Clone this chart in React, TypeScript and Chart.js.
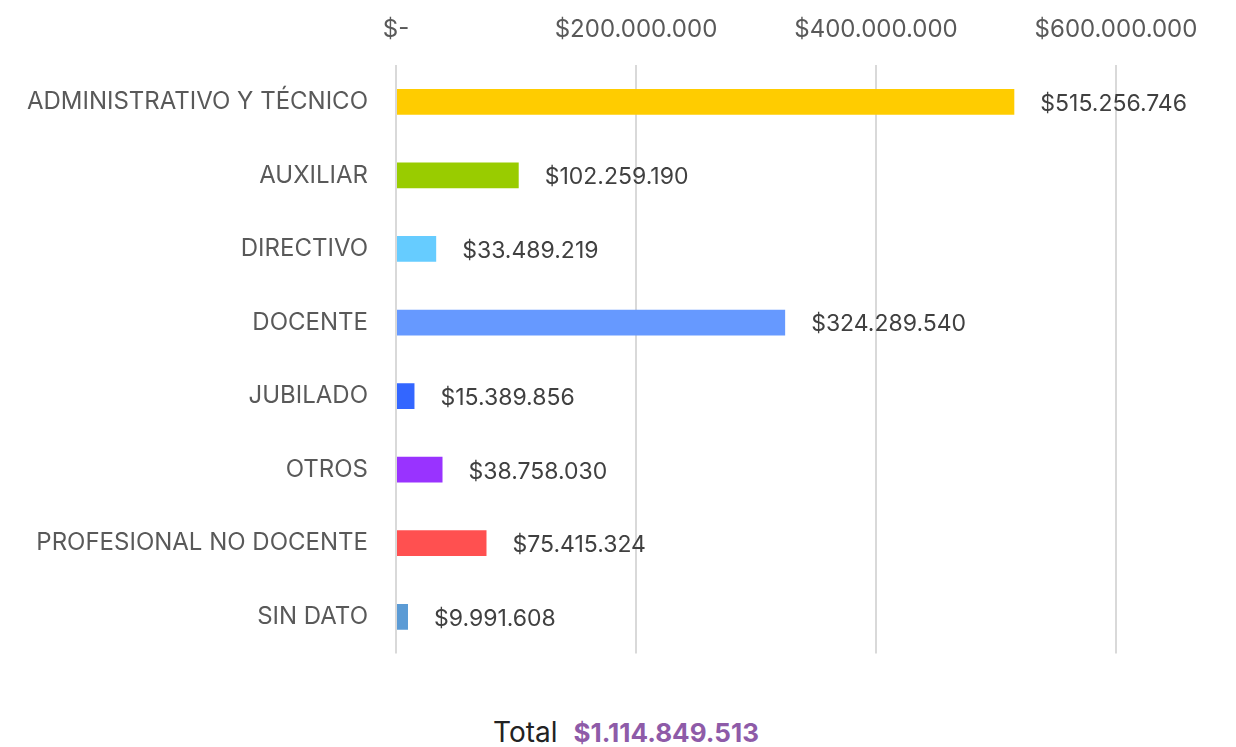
import React, { useEffect, useRef } from "react";
import { Chart, registerables } from "chart.js";

Chart.register(...registerables);

const categories = [
  "ADMINISTRATIVO Y TÉCNICO",
  "AUXILIAR",
  "DIRECTIVO",
  "DOCENTE",
  "JUBILADO",
  "OTROS",
  "PROFESIONAL NO DOCENTE",
  "SIN DATO",
];
const values = [515256746, 102259190, 33489219, 324289540, 15389856, 38758030, 75415324, 9991608];
const barColors = ["#FFCC00", "#99CC00", "#66CCFF", "#6699FF", "#3366FF", "#9933FF", "#FF5050", "#5B9BD5"];
const tickValues = [0, 200000000, 400000000, 600000000];
const totalLabel = "Total";
const totalValue = "$1.114.849.513";

const FONT = "Inter, sans-serif";

function fmt(v: number): string {
  if (v === 0) return "$-";
  return "$" + Math.round(v).toString().replace(/\B(?=(\d{3})+(?!\d))/g, ".");
}

const valueLabels = {
  id: "valueLabels",
  afterDatasetsDraw(chart: any) {
    const ctx = chart.ctx;
    const meta = chart.getDatasetMeta(0);
    ctx.save();
    ctx.font = `23px ${FONT}`;
    ctx.fillStyle = "#404040";
    ctx.textAlign = "left";
    ctx.textBaseline = "middle";
    meta.data.forEach((bar: any, i: number) => {
      ctx.fillText(fmt(values[i]), bar.x + 26, bar.y + 2);
    });
    ctx.restore();
  },
};

export default function App() {
  const ref = useRef<HTMLCanvasElement | null>(null);
  useEffect(() => {
    if (!ref.current) return;
    const chart = new Chart(ref.current, {
      type: "bar",
      data: {
        labels: categories,
        datasets: [
          {
            data: values,
            backgroundColor: barColors,
            borderWidth: 0,
            barPercentage: 0.35,
            categoryPercentage: 1,
          },
        ],
      },
      options: {
        indexAxis: "y",
        animation: false,
        responsive: false,
        maintainAspectRatio: false,
        layout: { padding: { top: 0, right: 112, bottom: 13, left: 0 } },
        plugins: { legend: { display: false }, tooltip: { enabled: false } },
        scales: {
          x: {
            position: "top",
            min: 0,
            max: 600000000,
            afterBuildTicks: (scale: any) => {
              scale.ticks = tickValues.map((v) => ({ value: v }));
            },
            afterFit: (scale: any) => {
              scale.height = 57;
            },
            ticks: {
              color: "#595959",
              font: { family: FONT, size: 24 },
              padding: 21,
              callback: (v: any) => fmt(Number(v)),
            },
            grid: { color: "#D9D9D9", lineWidth: 2, drawTicks: false },
            border: { display: false },
          },
          y: {
            afterFit: (scale: any) => {
              scale.width = 388;
            },
            ticks: {
              color: "#595959",
              font: { family: FONT, size: 24 },
              padding: 28,
            },
            grid: { display: false, drawTicks: false },
            border: { display: false },
          },
        },
      },
      plugins: [valueLabels],
    });
    return () => chart.destroy();
  }, []);

  return (
    <div style={{ width: 1220, height: 739, position: "relative" }}>
      <canvas ref={ref} width={1220} height={688} style={{ display: "block" }} />
      <div
        style={{
          position: "absolute",
          top: 711,
          left: 8,
          width: 1220,
          textAlign: "center",
          fontFamily: FONT,
          fontSize: 26,
          lineHeight: "26px",
          whiteSpace: "nowrap",
        }}
      >
        <span style={{ color: "#222222", fontSize: 28 }}>{totalLabel}</span>
        <span style={{ color: "#8E5BA8", fontWeight: 700, marginLeft: 16 }}>{totalValue}</span>
      </div>
    </div>
  );
}
